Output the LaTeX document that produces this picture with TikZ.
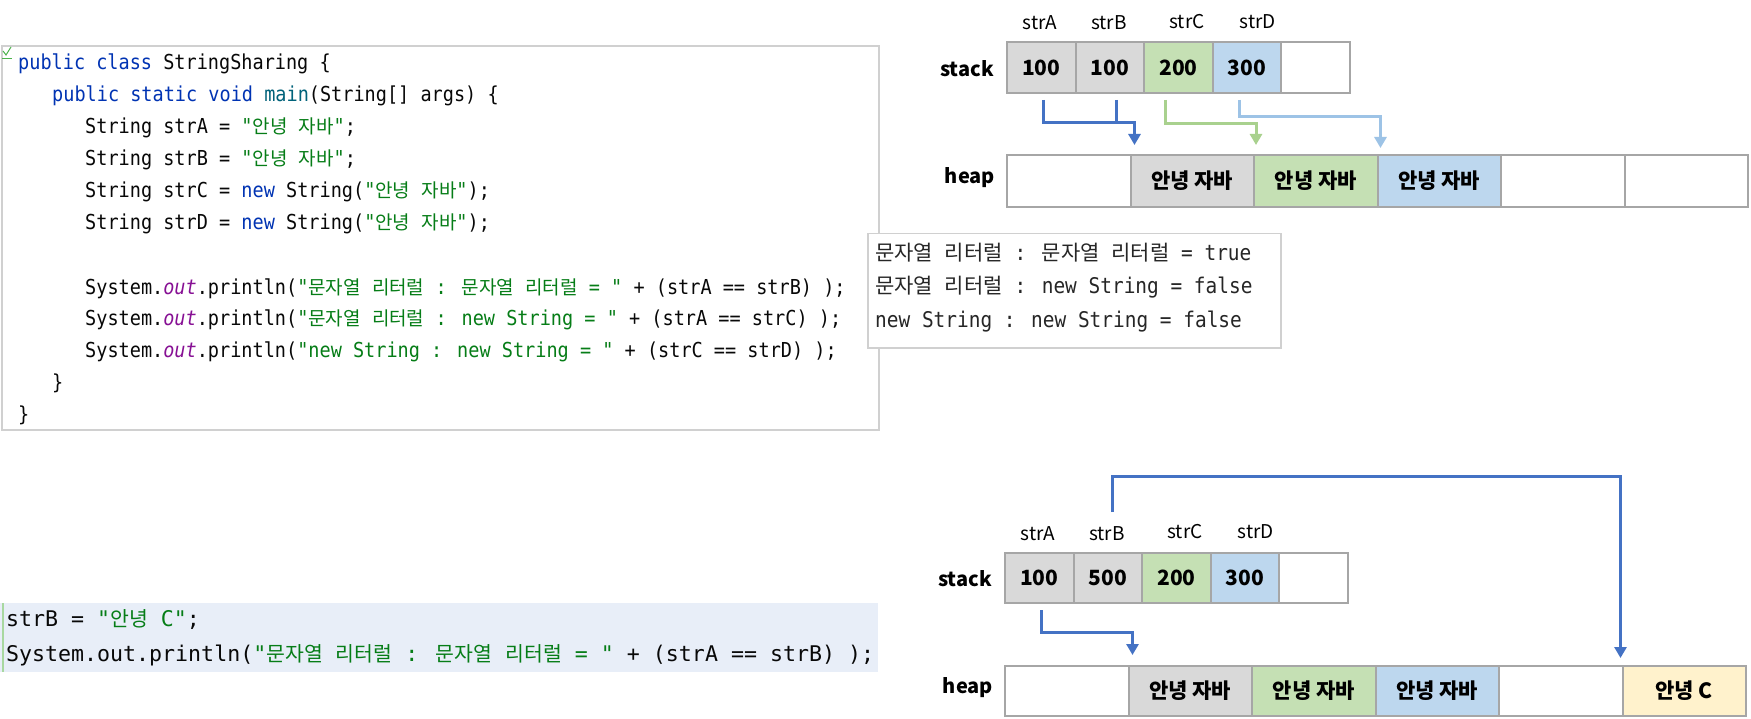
\documentclass[tikz,border=0pt]{standalone}
\usepackage{fontspec}
\usetikzlibrary{arrows.meta}
\newfontfamily\cf[FakeStretch=0.9,Ligatures=TeXOff]{DejaVu Sans Mono}
\newfontfamily\cfw[Ligatures=TeXOff]{DejaVu Sans Mono}
\newfontfamily\kf{Noto Sans CJK KR}
\def\ksz{17}
\newcommand\K[1]{{\fontsize{\ksz}{\ksz}\kf #1}}
\definecolor{kwc}{HTML}{0033B3}
\definecolor{strc}{HTML}{067D17}
\definecolor{fnc}{HTML}{00627A}
\definecolor{outc}{HTML}{871094}
\definecolor{codetxt}{HTML}{080808}
\definecolor{boxb}{HTML}{D0D0D0}
\definecolor{cellb}{HTML}{A6A6A6}
\definecolor{cgray}{HTML}{D9D9D9}
\definecolor{cgreen}{HTML}{C5E0B4}
\definecolor{cblue}{HTML}{BDD7EE}
\definecolor{cyellow}{HTML}{FFF2CC}
\definecolor{blueA}{HTML}{4472C4}
\definecolor{greenA}{HTML}{A9D18E}
\definecolor{lblueA}{HTML}{9DC3E6}
\definecolor{hlbg}{HTML}{E8EEF8}
\definecolor{hlbar}{HTML}{A8D8A0}
\newcommand\KW[1]{\textcolor{kwc}{#1}}
\newcommand\ST[1]{\textcolor{strc}{#1}}
\newcommand\FN[1]{\textcolor{fnc}{#1}}
\newcommand\OU[1]{\textcolor{outc}{\itshape #1}}
\tikzset{
  code/.style={anchor=base west, inner sep=0, text=codetxt, font=\fontsize{20.6}{20.6}\cf\def\ksz{19}},
  codeB/.style={anchor=base west, inner sep=0, text=codetxt, font=\fontsize{21.6}{21.6}\cfw\def\ksz{20.5}},
  outt/.style={anchor=base west, inner sep=0, text=black!85, font=\fontsize{21.6}{21.6}\cf\def\ksz{21}},
  cellbox/.style={draw=cellb, line width=2pt, anchor=north west, inner sep=0, outer sep=0, text=black, font=\fontsize{21}{21}\kf\bfseries},
  lbl/.style={inner sep=0, text=black, font=\fontsize{19}{19}\kf},
  tag/.style={inner sep=0, text=black, font=\fontsize{20}{20}\kf\bfseries},
  conn/.style={line width=3pt},
  tip/.style={-{Triangle[width=12pt,length=11pt]}},
  icon/.style={draw=green!40!gray, line width=1pt}
}
\begin{document}
\begin{tikzpicture}[x=1pt,y=-1pt]
\useasboundingbox[fill=white] (0,0) rectangle (1751,719);

% ---------- top code box ----------
\node[draw=boxb, line width=2pt, fill=white, anchor=north west, minimum width=877pt, minimum height=384pt, inner sep=0] (codebox) at (1,45) {};
\draw[icon] (3,51) -- (6,55) -- (11,47);
\draw[icon] (2,59) -- (12,59);
\node[code] (c0) at (18,69.5) {\KW{public class} StringSharing \{};
\node[code] (c1) at (52,101.5) {\KW{public static void} \FN{main}(String[] args) \{};
\node[code] (c2) at (85,133.5) {String strA = \ST{"\K{안녕} \K{자바}"};};
\node[code] (c3) at (85,165.5) {String strB = \ST{"\K{안녕} \K{자바}"};};
\node[code] (c4) at (85,197.5) {String strC = \KW{new} String(\ST{"\K{안녕} \K{자바}"});};
\node[code] (c5) at (85,229.5) {String strD = \KW{new} String(\ST{"\K{안녕} \K{자바}"});};
\node[code] (c7) at (85,294.5) {System.\OU{out}.println(\ST{"\K{문자열} \K{리터럴} : \K{문자열} \K{리터럴} = "} + (strA == strB) );};
\node[code] (c8) at (85,326) {System.\OU{out}.println(\ST{"\K{문자열} \K{리터럴} : new String = "} + (strA == strC) );};
\node[code] (c9) at (85,357.5) {System.\OU{out}.println(\ST{"new String : new String = "} + (strC == strD) );};
\node[code] (c10) at (52,389.5) {\}};
\node[code] (c11) at (18,421) {\}};

% ---------- output box ----------
\node[draw=boxb, line width=1.5pt, fill=white, anchor=north west, minimum width=413pt, minimum height=114pt, inner sep=0] (outbox) at (867,233) {};
\node[outt] (o1) at (875,261) {\K{문자열} \K{리터럴} : \K{문자열} \K{리터럴} = true};
\node[outt] (o2) at (875,294) {\K{문자열} \K{리터럴} : new String = false};
\node[outt] (o3) at (875,327) {new String : new String = false};

% ---------- bottom code ----------
\node[fill=hlbg, anchor=north west, minimum width=878pt, minimum height=69pt, inner sep=0] (hl) at (0,603) {};
\draw[draw=hlbar, line width=2pt] (hl.north west) ++(3,0) -- ++(0,69);
\node[codeB] (d0) at (6,626) {strB = \ST{"\K{안녕} C"};};
\node[codeB] (d1) at (6,661) {System.out.println(\ST{"\K{문자열} \K{리터럴} : \K{문자열} \K{리터럴} = "} + (strA == strB) );};

% ---------- top memory diagram ----------
\node[lbl] (la1) at (1040,23) {strA};
\node[lbl] (la2) at (1109,23) {strB};
\node[lbl] (la3) at (1187,22) {strC};
\node[lbl] (la4) at (1258,22) {strD};
\node[tag] (stkA) at (967,69) {stack};
\node[tag] (hpA) at (970,178) {heap};
\foreach \i/\t/\c in {1/100/cgray, 2/100/cgray, 3/200/cgreen, 4/300/cblue, 5//white}
  \node[cellbox, fill=\c, minimum width=68.6pt, minimum height=51pt] (sA\i) at ({1007+(\i-1)*68.6},42) {\t};
\foreach \i/\t/\c in {1//white, 2/안녕 자바/cgray, 3/안녕 자바/cgreen, 4/안녕 자바/cblue, 5//white, 6//white}
  \node[cellbox, fill=\c, minimum width=123.5pt, minimum height=52pt] (hA\i) at ({1007+(\i-1)*123.5},155) {\t};

\coordinate (tA) at ([xshift=4pt,yshift=10pt]hA2.north west);
\coordinate (tC) at ([xshift=2pt,yshift=10pt]hA3.north west);
\coordinate (tD) at ([xshift=3pt,yshift=7pt]hA4.north west);
\draw[conn, draw=blueA, tip] ([xshift=2.5pt,yshift=-7pt]sA1.south) -- ++(0,23) -| (tA);
\draw[conn, draw=blueA] ([xshift=7pt,yshift=-7pt]sA2.south) -- ++(0,23);
\draw[conn, draw=greenA, tip] ([xshift=-13pt,yshift=-7pt]sA3.south) -- ++(0,24) -| (tC);
\draw[conn, draw=lblueA, tip] ([xshift=-8pt,yshift=-7pt]sA4.south) -- ++(0,17) -| (tD);

% ---------- bottom memory diagram ----------
\node[lbl] (lb1) at (1038,534) {strA};
\node[lbl] (lb2) at (1107,534) {strB};
\node[lbl] (lb3) at (1185,532) {strC};
\node[lbl] (lb4) at (1256,532) {strD};
\node[tag] (stkB) at (965,579) {stack};
\node[tag] (hpB) at (968,688) {heap};
\foreach \i/\t/\c in {1/100/cgray, 2/500/cgray, 3/200/cgreen, 4/300/cblue, 5//white}
  \node[cellbox, fill=\c, minimum width=68.6pt, minimum height=50pt] (sB\i) at ({1005+(\i-1)*68.6},553) {\t};
\foreach \i/\t/\c in {1//white, 2/안녕 자바/cgray, 3/안녕 자바/cgreen, 4/안녕 자바/cblue, 5//white, 6/안녕 C/cyellow}
  \node[cellbox, fill=\c, minimum width=123.5pt, minimum height=50pt] (hB\i) at ({1005+(\i-1)*123.5},666) {\t};

\coordinate (tB1) at ([xshift=4pt,yshift=11pt]hB2.north west);
\coordinate (tB2) at ([xshift=-2pt,yshift=8pt]hB6.north west);
\draw[conn, draw=blueA, tip] ([xshift=2.5pt,yshift=-7pt]sB1.south) -- ++(0,22) -| (tB1);
\draw[conn, draw=blueA, tip] ([xshift=4.5pt,yshift=41pt]sB2.north) -- ++(0,-36) -| (tB2);
\end{tikzpicture}
\end{document}
